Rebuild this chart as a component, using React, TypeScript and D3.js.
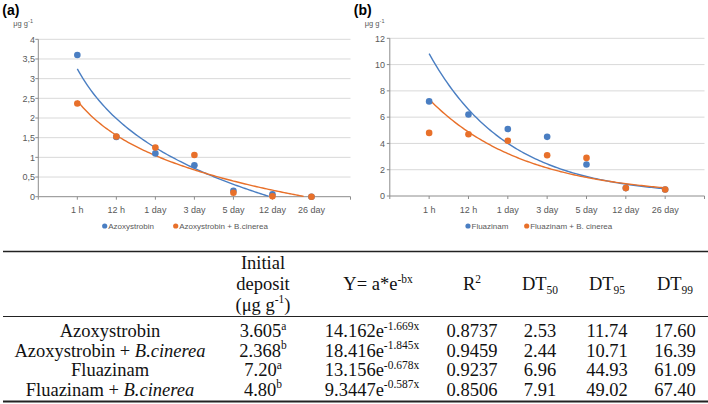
import React from "react";
import * as d3 from "d3";

// ---------- data ----------
const categories = ["1 h", "12 h", "1 day", "3 day", "5 day", "12 day", "26 day"];
const azoxystrobin = [3.6, 1.52, 1.1, 0.8, 0.15, 0.06, 0.0];
const azoxystrobinBc = [2.37, 1.53, 1.25, 1.06, 0.1, 0.01, 0.0];
const fluazinam = [7.2, 6.2, 5.1, 4.5, 2.4, 0.6, 0.5];
const fluazinamBc = [4.8, 4.7, 4.2, 3.1, 2.9, 0.6, 0.5];
const yTicksA = [0, 0.5, 1, 1.5, 2, 2.5, 3, 3.5, 4];
const yTicksB = [0, 2, 4, 6, 8, 10, 12];
// trendline coefficients, x = category index 1..7
const trendA = { blue: { a: 3.25, b: 1.824 }, orange: { a: 2.44, b: 1.269 } }; // y = a - b ln x
const trendB = { blue: { a: 17.8, b: 0.497 }, orange: { a: 11.1, b: 0.412 } }; // y = a e^(-b x)
const legendA = ["Azoxystrobin", "Azoxystrobin + B.cinerea"];
const legendB = ["Fluazinam", "Fluazinam + B. cinerea"];

const tableNames = [
  [{ t: "Azoxystrobin" }],
  [{ t: "Azoxystrobin + " }, { t: "B.cinerea", it: true }],
  [{ t: "Fluazinam" }],
  [{ t: "Fluazinam + " }, { t: "B.cinerea", it: true }],
];
const initialDeposit = [["3.605", "a"], ["2.368", "b"], ["7.20", "a"], ["4.80", "b"]];
const equationA = ["14.162", "18.416", "13.156", "9.3447"];
const equationB = ["-1.669x", "-1.845x", "-0.678x", "-0.587x"];
const r2 = ["0.8737", "0.9459", "0.9237", "0.8506"];
const dt50 = ["2.53", "2.44", "6.96", "7.91"];
const dt95 = ["11.74", "10.71", "44.93", "49.02"];
const dt99 = ["17.60", "16.39", "61.09", "67.40"];

const BLUE = "#4A7EC2";
const ORANGE = "#E8702A";
const AXIS = "#8C8C8C";
const GRID = "#D9D9D9";
const TXT = "#595959";
const SANS = "'Liberation Sans', Arial, sans-serif";
const SERIF = "'Liberation Serif', 'Times New Roman', serif";

type Seg = { t: string; it?: boolean; sup?: boolean; sub?: boolean };

function Rich({ x, y, segs, size, anchor = "middle" }: { x: number; y: number; segs: Seg[]; size: number; anchor?: string }) {
  let prev = 0;
  const small = size * 0.62;
  return (
    <text x={x} y={y} fontFamily={SERIF} fontSize={size} textAnchor={anchor as any} fill="#111">
      {segs.map((s, i) => {
        const off = s.sup ? -size * 0.38 : s.sub ? size * 0.2 : 0;
        const dy = off - prev;
        prev = off;
        return (
          <tspan key={i} dy={dy} fontStyle={s.it ? "italic" : "normal"} fontSize={s.sup || s.sub ? small : size}>
            {s.t}
          </tspan>
        );
      })}
    </text>
  );
}

function Panel({
  label, x0, x1, yTop, yBot, yMax, ticks, fmt, s1, s2, curve1, curve2, legend, legendX, tickLabelRight,
}: any) {
  const x = d3.scaleLinear().domain([0, 8]).range([x0, x1]);
  const y = d3.scaleLinear().domain([0, yMax]).range([yBot, yTop]);
  const xs = d3.range(1, 7.0001, 0.05);
  const line = d3.line<[number, number]>().x((d) => x(d[0])).y((d) => y(d[1]));
  const pts = (f: (v: number) => number) =>
    xs.map((v) => [v, f(v)] as [number, number]).filter((p) => p[1] >= -0.001);
  return (
    <g>
      <text x={x0 - 36} y={15} fontFamily={SANS} fontWeight="bold" fontSize={14} fill="#000">{label}</text>
      <text x={x0 - 25} y={26} fontFamily={SANS} fontSize={7.5} fill={TXT}>
        μg g<tspan dy={-3} fontSize={5.5}>-1</tspan>
      </text>
      {ticks.map((t: number) => (
        <g key={t}>
          {t > 0 && <line x1={x0} x2={x1} y1={y(t)} y2={y(t)} stroke={GRID} strokeWidth={1} />}
          <line x1={x0 - 3} x2={x0} y1={y(t)} y2={y(t)} stroke={AXIS} />
          <text x={tickLabelRight} y={y(t) + 3.2} textAnchor="end" fontFamily={SANS} fontSize={9} fill={TXT}>{fmt(t)}</text>
        </g>
      ))}
      <line x1={x0} x2={x0} y1={yTop} y2={yBot} stroke={AXIS} />
      <line x1={x0} x2={x1} y1={yBot} y2={yBot} stroke={AXIS} />
      {d3.range(0, 9).map((i) => (
        <line key={i} x1={x(i)} x2={x(i)} y1={yBot} y2={yBot + 3} stroke={AXIS} />
      ))}
      {categories.map((c, i) => (
        <text key={c} x={x(i + 1)} y={213} textAnchor="middle" fontFamily={SANS} fontSize={9} fill={TXT}>{c}</text>
      ))}
      <path d={line(pts(curve1)) || ""} fill="none" stroke={BLUE} strokeWidth={1.4} />
      <path d={line(pts(curve2)) || ""} fill="none" stroke={ORANGE} strokeWidth={1.4} />
      {s1.map((v: number, i: number) => (
        <circle key={"a" + i} cx={x(i + 1)} cy={y(v)} r={3.3} fill={BLUE} />
      ))}
      {s2.map((v: number, i: number) => (
        <circle key={"b" + i} cx={x(i + 1)} cy={y(v)} r={3.3} fill={ORANGE} />
      ))}
      <circle cx={legendX[0]} cy={226} r={2.6} fill={BLUE} />
      <text x={legendX[0] + 3.5} y={229} fontFamily={SANS} fontSize={8} fill={TXT}>{legend[0]}</text>
      <circle cx={legendX[1]} cy={226} r={2.6} fill={ORANGE} />
      <text x={legendX[1] + 3.5} y={229} fontFamily={SANS} fontSize={8} fill={TXT}>{legend[1]}</text>
    </g>
  );
}

export default function App() {
  const cols = { name: 110, init: 263, eqHead: 378, eq: 372, r2: 472, dt50: 540, dt95: 607, dt99: 675 };
  const rowY = [337, 356.5, 376, 395.5];
  const fs = 18.5;
  return (
    <svg width={708} height={404} style={{ position: "absolute", left: 0, top: 0, background: "#fff" }}>
      <Panel
        label="(a)" x0={38.3} x1={350.5} yTop={39.3} yBot={196.7} yMax={4}
        ticks={yTicksA} fmt={(t: number) => String(t).replace(".", ",")}
        s1={azoxystrobin} s2={azoxystrobinBc}
        curve1={(v: number) => trendA.blue.a - trendA.blue.b * Math.log(v)}
        curve2={(v: number) => trendA.orange.a - trendA.orange.b * Math.log(v)}
        legend={legendA} legendX={[104.7, 175.7]} tickLabelRight={35}
      />
      <Panel
        label="(b)" x0={389.8} x1={704.5} yTop={38.3} yBot={196} yMax={12}
        ticks={yTicksB} fmt={(t: number) => String(t)}
        s1={fluazinam} s2={fluazinamBc}
        curve1={(v: number) => trendB.blue.a * Math.exp(-trendB.blue.b * v)}
        curve2={(v: number) => trendB.orange.a * Math.exp(-trendB.orange.b * v)}
        legend={legendB} legendX={[468, 526.7]} tickLabelRight={385}
      />
      {/* table */}
      <line x1={3} x2={708} y1={251.5} y2={251.5} stroke="#222" strokeWidth={1.5} />
      <line x1={3} x2={708} y1={316.5} y2={316.5} stroke="#222" strokeWidth={1.2} />
      <line x1={3} x2={708} y1={401.5} y2={401.5} stroke="#222" strokeWidth={2} />
      <Rich x={cols.init} y={269} size={fs} segs={[{ t: "Initial" }]} />
      <Rich x={cols.init} y={290} size={fs} segs={[{ t: "deposit" }]} />
      <Rich x={cols.init} y={310.5} size={fs} segs={[{ t: "(μg g" }, { t: "-1", sup: true }, { t: ")" }]} />
      <Rich x={cols.eqHead} y={290} size={fs} segs={[{ t: "Y= a*e" }, { t: "-bx", sup: true }]} />
      <Rich x={cols.r2} y={290} size={fs} segs={[{ t: "R" }, { t: "2", sup: true }]} />
      <Rich x={cols.dt50} y={290} size={fs} segs={[{ t: "DT" }, { t: "50", sub: true }]} />
      <Rich x={cols.dt95} y={290} size={fs} segs={[{ t: "DT" }, { t: "95", sub: true }]} />
      <Rich x={cols.dt99} y={290} size={fs} segs={[{ t: "DT" }, { t: "99", sub: true }]} />
      {tableNames.map((segs, i) => (
        <g key={i}>
          <Rich x={cols.name} y={rowY[i]} size={fs} segs={segs} />
          <Rich x={cols.init} y={rowY[i]} size={fs} segs={[{ t: initialDeposit[i][0] }, { t: initialDeposit[i][1], sup: true }]} />
          <Rich x={cols.eq} y={rowY[i]} size={fs} segs={[{ t: equationA[i] + "e" }, { t: equationB[i], sup: true }]} />
          <Rich x={cols.r2} y={rowY[i]} size={fs} segs={[{ t: r2[i] }]} />
          <Rich x={cols.dt50} y={rowY[i]} size={fs} segs={[{ t: dt50[i] }]} />
          <Rich x={cols.dt95} y={rowY[i]} size={fs} segs={[{ t: dt95[i] }]} />
          <Rich x={cols.dt99} y={rowY[i]} size={fs} segs={[{ t: dt99[i] }]} />
        </g>
      ))}
    </svg>
  );
}
